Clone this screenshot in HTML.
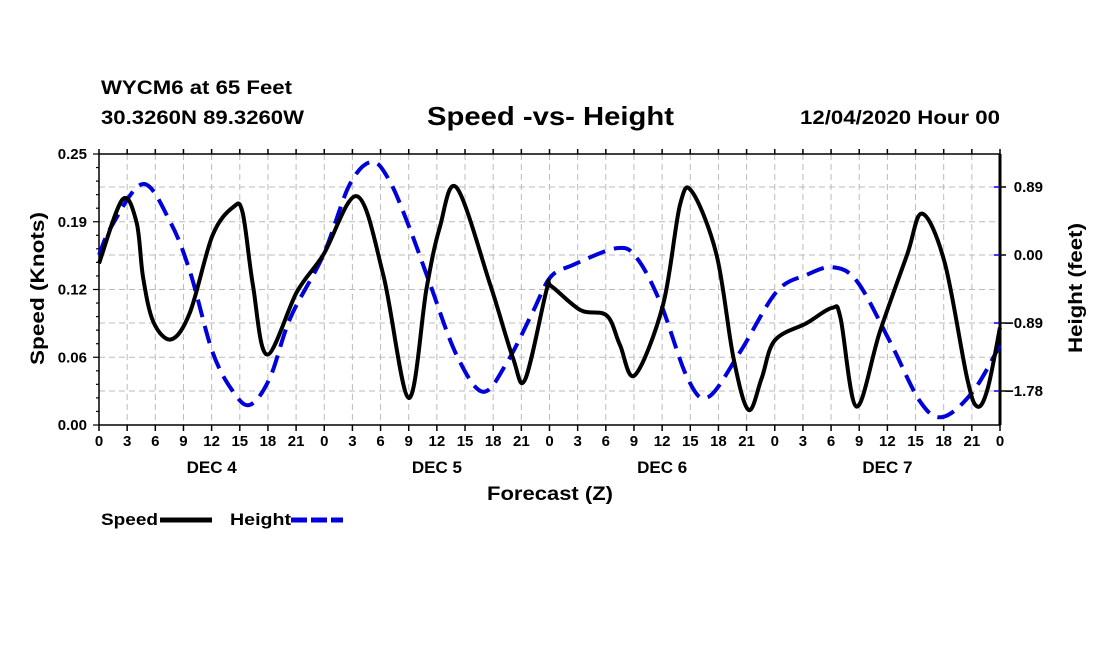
<!DOCTYPE html>
<html><head><meta charset="utf-8"><style>
html,body{margin:0;padding:0;background:#fff;}
svg text{font-family:"Liberation Sans",sans-serif;font-weight:bold;fill:#000;}
</style></head><body>
<svg id="chart" width="1100" height="650" xmlns="http://www.w3.org/2000/svg">
<text x="101" y="94" font-size="19" textLength="191" lengthAdjust="spacingAndGlyphs">WYCM6 at 65 Feet</text>
<text x="101" y="124" font-size="19" textLength="203" lengthAdjust="spacingAndGlyphs">30.3260N 89.3260W</text>
<text x="427" y="125" font-size="26" textLength="247" lengthAdjust="spacingAndGlyphs">Speed -vs- Height</text>
<text x="800" y="124" font-size="19" textLength="200" lengthAdjust="spacingAndGlyphs">12/04/2020 Hour 00</text>
<g id="grid"></g>
<g id="axes"></g>
<g id="series"></g>
<text transform="translate(44,365) rotate(-90)" font-size="19" textLength="153" lengthAdjust="spacingAndGlyphs">Speed (Knots)</text>
<text transform="translate(1082,353) rotate(-90)" font-size="19" textLength="130" lengthAdjust="spacingAndGlyphs">Height (feet)</text>
<text x="487" y="500" font-size="19" textLength="126" lengthAdjust="spacingAndGlyphs">Forecast (Z)</text>
<g>
<text x="101" y="525" font-size="17" textLength="57" lengthAdjust="spacingAndGlyphs">Speed</text>
<line x1="160" y1="520" x2="212" y2="520" stroke="#000" stroke-width="5"/>
<text x="230" y="525" font-size="17" textLength="61" lengthAdjust="spacingAndGlyphs">Height</text>
<line x1="291" y1="520" x2="343" y2="520" stroke="#0000dd" stroke-width="5" stroke-dasharray="16,4"/>
</g>
</svg>
<script>
const speedHours=[0,2.5,4,4.7,5.8,7.7,9.7,12.1,14.3,15.3,16.4,17.9,21.1,23.9,27.5,30.3,33.0,34.9,36.3,38.1,41.7,44.1,45.4,47.7,48.2,51.3,54.1,55.5,57.1,60.1,61.9,63.2,65.8,67.6,69.2,70.6,72.0,75.4,78.1,79.0,80.7,83.2,86.1,87.7,90.1,92.5,93.6,94.7,96];
const speedValues=[0.149,0.208,0.187,0.136,0.095,0.079,0.104,0.175,0.201,0.196,0.129,0.065,0.123,0.157,0.211,0.138,0.025,0.126,0.182,0.219,0.129,0.062,0.042,0.125,0.128,0.106,0.101,0.074,0.046,0.111,0.203,0.215,0.157,0.062,0.014,0.043,0.078,0.094,0.108,0.099,0.017,0.086,0.157,0.195,0.150,0.043,0.017,0.034,0.090];
const heightHours=[0,1.4,4.7,7.6,9.7,12.1,14.3,16.1,18.2,20.4,23.9,26.7,29.1,31.0,33.1,35.3,38.1,40.9,43.5,46.2,48.1,50.5,55.2,57.3,59.8,62.7,64.9,68.3,72.2,75.4,78.2,80.8,84.3,87.5,89.9,93.1,96];
const heightValues=[0,0.39,0.93,0.43,-0.22,-1.27,-1.79,-1.96,-1.61,-0.82,0,0.92,1.22,0.96,0.35,-0.39,-1.31,-1.79,-1.40,-0.75,-0.29,-0.13,0.09,-0.04,-0.62,-1.61,-1.86,-1.27,-0.48,-0.26,-0.16,-0.35,-1.14,-1.92,-2.12,-1.79,-1.18];
const xTickLabels=["0","3","6","9","12","15","18","21"];
const dayLabels=["DEC 4","DEC 5","DEC 6","DEC 7"];
const leftTickValues=[0,0.0625,0.125,0.1875,0.25];
const leftTickLabels=["0.00","0.06","0.12","0.19","0.25"];
const rightTickValues=[-1.78,-0.89,0,0.89];
const rightTickLabels=["\u22121.78","\u22120.89","0.00","0.89"];

const L=99,R=1000,T=154,B=425;
const NS="http://www.w3.org/2000/svg";
const xs=h=>L+(R-L)*h/96;
const yl=v=>B-(B-T)*v/0.25;
const yr=v=>255-v*68/0.89;
function mk(tag,attrs,parent){const e=document.createElementNS(NS,tag);for(const k in attrs)e.setAttribute(k,attrs[k]);parent.appendChild(e);return e;}
const grid=document.getElementById('grid'),axes=document.getElementById('axes'),series=document.getElementById('series');
for(let h=3;h<96;h+=3){const l=mk('line',{x1:xs(h),x2:xs(h),y1:T,y2:B,stroke:'#bbb','stroke-dasharray':'6,4'},grid);

}
leftTickValues.slice(1,-1).forEach(v=>{const l=mk('line',{x1:L,x2:R,y1:yl(v),y2:yl(v),stroke:'#bbb','stroke-dasharray':'6,4'},grid);

});
rightTickValues.forEach(v=>{const l=mk('line',{x1:L,x2:R,y1:yr(v),y2:yr(v),stroke:'#bbb','stroke-dasharray':'6,4'},grid);

});
const fr=mk('rect',{x:L,y:T,width:R-L,height:B-T,fill:'none',stroke:'#000','stroke-width':1.5},axes);


mk('line',{x1:R,x2:R,y1:T,y2:B,stroke:'#000','stroke-width':3},axes);
for(let h=0;h<=96;h+=3){mk('line',{x1:xs(h),x2:xs(h),y1:B,y2:B+6,stroke:'#000','stroke-width':1.5},axes);
mk('line',{x1:xs(h),x2:xs(h),y1:T,y2:T-5,stroke:'#000','stroke-width':1.5},axes);
const t=mk('text',{x:xs(h),y:B+21,'font-size':15,'text-anchor':'middle'},axes);t.textContent=xTickLabels[(h/3)%8];

}
dayLabels.forEach((d,i)=>{const t=mk('text',{x:xs(12+24*i),y:B+48,'font-size':17,'text-anchor':'middle'},axes);t.textContent=d;

});
for(let i=0;i<=20;i++){const v=i*0.0125;mk('line',{x1:L,x2:L-(i%5==0?6:3),y1:yl(v),y2:yl(v),stroke:'#000','stroke-width':1.2},axes);}
leftTickValues.forEach((v,i)=>{const t=mk('text',{x:L-12,y:yl(v)+5,'font-size':15,'text-anchor':'end'},axes);t.textContent=leftTickLabels[i];

});
rightTickValues.forEach((v,i)=>{mk('line',{x1:R,x2:R-6,y1:yr(v),y2:yr(v),stroke:'#0000dd','stroke-width':1.5},axes);
mk('line',{x1:R,x2:R+6,y1:yr(v),y2:yr(v),stroke:'#000','stroke-width':1.5},axes);
const t=mk('text',{x:R+43,y:yr(v)+5,'font-size':15,'text-anchor':'end'},axes);t.textContent=rightTickLabels[i];

});
function smooth(pts){let d='M'+pts[0][0]+','+pts[0][1];for(let i=0;i<pts.length-1;i++){const p0=pts[Math.max(0,i-1)],p1=pts[i],p2=pts[i+1],p3=pts[Math.min(pts.length-1,i+2)];
d+=' C'+(p1[0]+(p2[0]-p0[0])/6)+','+(p1[1]+(p2[1]-p0[1])/6)+' '+(p2[0]-(p3[0]-p1[0])/6)+','+(p2[1]-(p3[1]-p1[1])/6)+' '+p2[0]+','+p2[1];}return d;}
const hp=mk('path',{d:smooth(heightHours.map((h,i)=>[xs(h),yr(heightValues[i])])),fill:'none',stroke:'#0000dd','stroke-width':4,'stroke-dasharray':'18,9'},series);


const sp=mk('path',{d:smooth(speedHours.map((h,i)=>[xs(h),yl(speedValues[i])])),fill:'none',stroke:'#000','stroke-width':4,'stroke-linejoin':'round'},series);


</script>
</body></html>
